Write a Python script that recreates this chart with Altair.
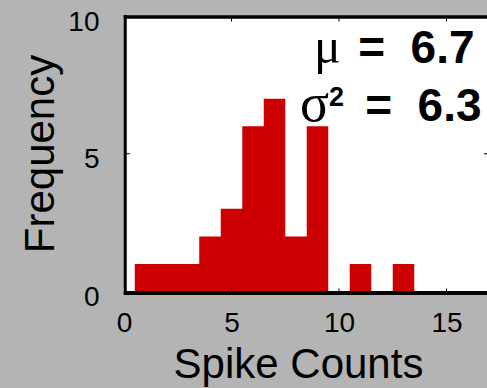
import altair as alt
import pandas as pd

# Histogram of spike counts: bin centres and their frequencies
spike_counts = [1, 2, 3, 4, 5, 6, 7, 8, 9, 10, 11, 12, 13]
frequency = [1, 1, 1, 2, 3, 6, 7, 2, 6, 0, 1, 0, 1]

x_ticks = [0, 5, 10, 15]
y_ticks = [0, 5, 10]
inner_x_ticks = [5, 10, 15]

NBSP = "\u00a0"
mean_label = "=" + NBSP * 2 + "6.7"
var_label = "=" + NBSP * 2 + "6.3"

X_MAX = 363 / 21.5   # plot spans 363 px at 21.5 px per count
W, H = 363, 275.5
RED = "#cc0000"

# Step outline of the histogram: each bin's left edge carries its height,
# and a closing point sits at the right edge of the last bin.
edges = [c - 0.5 for c in spike_counts] + [spike_counts[-1] + 0.5]
heights = frequency + [0]
hist = pd.DataFrame({"edge": edges, "freq": heights})

x_scale = alt.Scale(domain=[0, X_MAX], nice=False, zero=False)
y_scale = alt.Scale(domain=[0, 10], nice=False)

bars = (
    alt.Chart(hist)
    .mark_area(color=RED, interpolate="step-after", opacity=1)
    .encode(
        x=alt.X(
            "edge:Q",
            scale=x_scale,
            axis=alt.Axis(
                values=x_ticks,
                title="Spike Counts",
                labelFontSize=28,
                labelFont="Liberation Sans",
                labelColor="black",
                labelPadding=18,
                labelFlush=False,
                titleFontSize=42,
                titleFont="Liberation Sans",
                titleFontWeight="normal",
                titleColor="black",
                titleX=174,
                titleY=85.5,
                titleAlign="center",
                titleBaseline="alphabetic",
                domain=False,
                ticks=False,
                grid=False,
            ),
        ),
        y=alt.Y(
            "freq:Q",
            scale=y_scale,
            axis=alt.Axis(
                values=y_ticks,
                title="Frequency",
                labelFontSize=28,
                labelFont="Liberation Sans",
                labelColor="black",
                labelPadding=25,
                labelOffset=6,
                labelFlush=False,
                titleFontSize=42,
                titleFont="Liberation Sans",
                titleFontWeight="normal",
                titleColor="black",
                titleX=-70.25,
                titleY=137.5,
                titleAlign="center",
                titleBaseline="alphabetic",
                domain=False,
                ticks=False,
                grid=False,
            ),
        ),
        y2=alt.datum(0),
    )
)

base = alt.Chart(pd.DataFrame({"k": [0]}))

# Box lines on the left, top and bottom of the plot area
left_line = base.mark_rule(color="black", strokeWidth=3).encode(
    x=alt.value(1.25), y=alt.value(-1), y2=alt.value(H + 3.5)
)
top_line = base.mark_rule(color="black", strokeWidth=3.5).encode(
    x=alt.value(-0.25), x2=alt.value(W + 5), y=alt.value(1)
)
bottom_line = base.mark_rule(color="black", strokeWidth=4).encode(
    x=alt.value(-0.25), x2=alt.value(W + 5), y=alt.value(H + 1.5)
)

# Small inward tick marks
tick_df = pd.DataFrame({"t": inner_x_ticks})
bottom_ticks = alt.Chart(tick_df).mark_rule(color="black", strokeWidth=1).encode(
    x=alt.X("t:Q", scale=x_scale), y=alt.value(H - 3), y2=alt.value(H)
)
top_ticks = alt.Chart(tick_df).mark_rule(color="black", strokeWidth=1).encode(
    x=alt.X("t:Q", scale=x_scale), y=alt.value(2.5), y2=alt.value(5.5)
)
yt_df = pd.DataFrame({"v": [5]})
left_tick = alt.Chart(yt_df).mark_rule(color="black", strokeWidth=1).encode(
    y=alt.Y("v:Q", scale=y_scale), x=alt.value(2.5), x2=alt.value(6)
)
right_tick = alt.Chart(yt_df).mark_rule(color="black", strokeWidth=1).encode(
    y=alt.Y("v:Q", scale=y_scale), x=alt.value(W - 3), x2=alt.value(W)
)

# Mean and variance annotation
mu = base.mark_text(
    text="μ", font="Liberation Serif", fontSize=50, align="left",
    baseline="alphabetic", color="black",
).encode(x=alt.value(190), y=alt.value(46.5))
mu_val = base.mark_text(
    text=mean_label, font="Liberation Sans", fontSize=46, fontWeight="bold",
    align="right", baseline="alphabetic", color="black",
).encode(x=alt.value(350.5), y=alt.value(46.5))

sigma = base.mark_text(
    text="σ", font="Liberation Serif", fontSize=54, align="left",
    baseline="alphabetic", color="black",
).encode(x=alt.value(176), y=alt.value(104.5))
sup2 = base.mark_text(
    text="2", font="Liberation Sans", fontSize=27, fontWeight="bold",
    align="left", baseline="alphabetic", color="black",
).encode(x=alt.value(205), y=alt.value(89.5))
var_val = base.mark_text(
    text=var_label, font="Liberation Sans", fontSize=46, fontWeight="bold",
    align="right", baseline="alphabetic", color="black",
).encode(x=alt.value(357.5), y=alt.value(104.5))

chart = (
    alt.layer(
        bars, bottom_line, left_line, top_line,
        bottom_ticks, top_ticks, left_tick, right_tick,
        mu, mu_val, sigma, sup2, var_val,
    )
    .properties(
        width=W,
        height=H,
        background="#b4b4b4",
        padding={"left": 124, "top": 16, "right": 0, "bottom": 96.5},
        autosize=alt.AutoSizeParams(type="none"),
    )
    .configure_view(strokeWidth=0, fill="white")
)

chart.save("out.html", embed_options={"renderer": "svg", "actions": False})
